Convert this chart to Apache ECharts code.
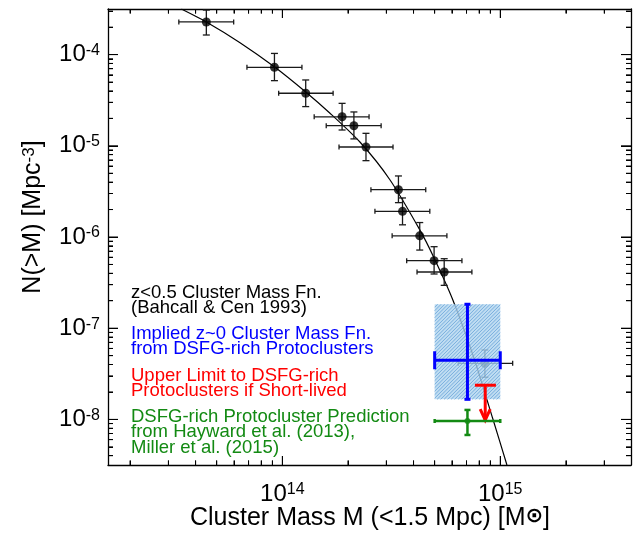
<!DOCTYPE html>
<html>
<head>
<meta charset="UTF-8">
<title>Cluster mass function</title>
<script src="https://cdn.jsdelivr.net/npm/echarts@6/dist/echarts.min.js"></script>
<style>html,body{margin:0;padding:0;background:#fff;}</style>
</head>
<body>
<div id="chart" style="width:634px;height:535px;"></div>
<script>
// Bahcall & Cen 1993 points (last one sits behind the shaded box)
var clusterMass   = [4.48e13, 9.20e13, 1.28e14, 1.88e14, 2.13e14, 2.42e14, 3.41e14, 3.56e14, 4.27e14, 4.97e14, 5.53e14, 8.50e14];
var clusterMassLo = [3.35e13, 6.88e13, 9.62e13, 1.40e14, 1.59e14, 1.82e14, 2.55e14, 2.66e14, 3.19e14, 3.72e14, 4.15e14, 6.41e14];
var clusterMassHi = [5.98e13, 1.23e14, 1.71e14, 2.50e14, 2.84e14, 3.22e14, 4.55e14, 4.75e14, 5.69e14, 6.67e14, 7.41e14, 1.14e15];
var clusterN      = [2.28e-4, 7.26e-5, 3.77e-5, 2.08e-5, 1.66e-5, 9.7e-6, 3.30e-6, 1.91e-6, 1.03e-6, 5.50e-7, 4.13e-7, 4.12e-8];
var clusterNLo    = [1.64e-4, 5.18e-5, 2.69e-5, 1.49e-5, 1.19e-5, 6.87e-6, 2.38e-6, 1.36e-6, 7.19e-7, 3.93e-7, 2.95e-7, 2.90e-8];
var clusterNHi    = [3.08e-4, 1.03e-4, 5.27e-5, 2.92e-5, 2.35e-5, 1.37e-5, 4.67e-6, 2.68e-6, 1.44e-6, 7.83e-7, 5.78e-7, 5.77e-8];

// mass function curve
var fitMass = [3.44e13, 4.48e13, 6.37e13, 9.22e13, 1.28e14, 1.65e14, 2.27e14, 3.11e14, 4.28e14, 4.97e14, 6.06e14, 7.57e14, 9.25e14, 1.073e15];
var fitN    = [3.162e-4, 2.28e-4, 1.36e-4, 7.31e-5, 3.89e-5, 2.29e-5, 1.10e-5, 4.27e-6, 1.19e-6, 5.89e-7, 2.04e-7, 4.71e-8, 1.01e-8, 3.16e-9];

// protocluster estimates: [mass, massLo, massHi, n, nLo, nHi]
var impliedPt   = [7.07e14, 5.0e14, 1.0e15, 4.45e-8, 1.66e-8, 1.83e-7];
var predictedPt = [7.07e14, 5.0e14, 1.0e15, 9.6e-9, 6.75e-9, 1.27e-8];
// upper limit: [mass, massLo, massHi, n, arrow tip]
var upperLimit  = [8.53e14, 7.65e14, 9.55e14, 2.37e-8, 9.8e-9];

var xRange = [1.585e13, 3.98e15];
var yRange = [3.162e-9, 3.162e-4];
var xTickValues = [1e14, 1e15];
var xTickExps   = ['14', '15'];
var xMinorTicks = [2e13, 3e13, 4e13, 5e13, 6e13, 7e13, 8e13, 9e13,
                   2e14, 3e14, 4e14, 5e14, 6e14, 7e14, 8e14, 9e14, 2e15, 3e15];
var yTickValues = [1e-8, 1e-7, 1e-6, 1e-5, 1e-4];
var yTickExps   = ['-8', '-7', '-6', '-5', '-4'];
var yMinorTicks = [4e-9, 5e-9, 6e-9, 7e-9, 8e-9, 9e-9,
                   2e-8, 3e-8, 4e-8, 5e-8, 6e-8, 7e-8, 8e-8, 9e-8,
                   2e-7, 3e-7, 4e-7, 5e-7, 6e-7, 7e-7, 8e-7, 9e-7,
                   2e-6, 3e-6, 4e-6, 5e-6, 6e-6, 7e-6, 8e-6, 9e-6,
                   2e-5, 3e-5, 4e-5, 5e-5, 6e-5, 7e-5, 8e-5, 9e-5,
                   2e-4, 3e-4];

var noteBlack = ['z<0.5 Cluster Mass Fn.', '(Bahcall & Cen 1993)'];
var noteBlue  = ['Implied z~0 Cluster Mass Fn.', 'from DSFG-rich Protoclusters'];
var noteRed   = ['Upper Limit to DSFG-rich', 'Protoclusters if Short-lived'];
var noteGreen = ['DSFG-rich Protocluster Prediction', 'from Hayward et al. (2013),', 'Miller et al. (2015)'];

var FONT = 'Liberation Sans, Arial, Helvetica, sans-serif';
var errs = [];
window.onerror = function (m) { errs.push(String(m)); };
function safe(tag, fn) { try { fn(); } catch (e) { errs.push(tag + ': ' + e.message); } }

var chart = echarts.init(document.getElementById('chart'));

function tickLabel(values, exps) {
    return function (v) {
        for (var i = 0; i < values.length; i++) {
            if (Math.abs(Math.log10(v) - Math.log10(values[i])) < 0.01) return '{b|10}{s|' + exps[i] + '}';
        }
        return ' ';
    };
}
var powRich = {
    b: {fontSize: 24, fontFamily: FONT, color: '#000', lineHeight: 24, verticalAlign: 'top'},
    s: {fontSize: 16, fontFamily: FONT, color: '#000', lineHeight: 10, verticalAlign: 'top'}
};

function seg(x1, y1, x2, y2, st) {
    return {type: 'line', shape: {x1: x1, y1: y1, x2: x2, y2: y2}, style: st};
}

// errorbar drawer; caps in px
function errorBars(color, width, capX, capY) {
    return function (params, api) {
        var c = api.coord([api.value(0), api.value(1)]);
        var l = api.coord([api.value(2), api.value(1)]);
        var r = api.coord([api.value(3), api.value(1)]);
        var lo = api.coord([api.value(0), api.value(4)]);
        var hi = api.coord([api.value(0), api.value(5)]);
        var st = {stroke: color, lineWidth: width};
        return {type: 'group', children: [
            seg(l[0], c[1], r[0], c[1], st),
            seg(l[0], c[1] - capX, l[0], c[1] + capX, st),
            seg(r[0], c[1] - capX, r[0], c[1] + capX, st),
            seg(c[0], lo[1], c[0], hi[1], st),
            seg(c[0] - capY, lo[1], c[0] + capY, lo[1], st),
            seg(c[0] - capY, hi[1], c[0] + capY, hi[1], st)
        ]};
    };
}

var clusterRows = clusterMass.map(function (m, i) {
    return [m, clusterN[i], clusterMassLo[i], clusterMassHi[i], clusterNLo[i], clusterNHi[i]];
});
var fitRows = fitMass.map(function (m, i) { return [m, fitN[i]]; });
function toRow(p) { return [p[0], p[3], p[1], p[2], p[4], p[5]]; }

// one axis per side for major ticks (+labels), one more for the minor ticks
function logAxis(range, pos, ticks, len, line, labels) {
    var ax = {
        type: 'log', logBase: 10, min: range[0], max: range[1], position: pos,
        axisLine: {show: line, onZero: false, lineStyle: {color: '#000', width: 1.3}},
        axisTick: {show: true, inside: true, length: len, customValues: ticks, lineStyle: {color: '#000', width: 1}},
        minorTick: {show: false}, splitLine: {show: false}, minorSplitLine: {show: false},
        axisLabel: {show: false}
    };
    if (labels) {
        ax.axisLabel = {show: true, customValues: ticks, margin: labels.margin,
            formatter: tickLabel(ticks, labels.exps), rich: powRich};
    }
    return ax;
}

function note(id, lines, color, top) {
    return {id: id, type: 'text', left: 131, top: top, silent: true,
        style: {text: lines.join('\n'), fill: color, font: '18.5px ' + FONT, lineHeight: 15.5}};
}

var option = {
    animation: false,
    backgroundColor: '#fff',
    grid: {left: 108, right: 3, top: 9, bottom: 70},
    xAxis: [
        logAxis(xRange, 'bottom', xTickValues, 9, true, {margin: 17, exps: xTickExps}),
        logAxis(xRange, 'bottom', xMinorTicks, 4.5, false),
        logAxis(xRange, 'top', xTickValues, 9, true),
        logAxis(xRange, 'top', xMinorTicks, 4.5, false)
    ],
    yAxis: [
        logAxis(yRange, 'left', yTickValues, 10, true, {margin: 8, exps: yTickExps}),
        logAxis(yRange, 'left', yMinorTicks, 5, false),
        logAxis(yRange, 'right', yTickValues, 10, true),
        logAxis(yRange, 'right', yMinorTicks, 5, false)
    ],
    graphic: [
        {id: 'yname', type: 'text', x: 34, y: 217, rotation: Math.PI / 2, silent: true,
            style: {text: '{t|N(>M) [Mpc}{s|-3}{t|]}', align: 'center', verticalAlign: 'middle',
                rich: {
                    t: {fontSize: 25, fontFamily: FONT, fill: '#000', lineHeight: 26, verticalAlign: 'top'},
                    s: {fontSize: 17, fontFamily: FONT, fill: '#000', lineHeight: 12, verticalAlign: 'top'}
                }}},
        {id: 'xname', type: 'text', x: 370, y: 506, silent: true,
            style: {text: '{t|Cluster Mass M (<1.5 Mpc) [M}{sun|\u2299}{t|]}', align: 'center', verticalAlign: 'top',
                rich: {
                    t: {fontSize: 25, fontFamily: FONT, fill: '#000', lineHeight: 26, verticalAlign: 'top'},
                    sun: {fontSize: 21, fontFamily: 'DejaVu Sans', fontWeight: 'bold', fill: '#000', lineHeight: 44, verticalAlign: 'top'}
                }}},
        note('n1', noteBlack, '#000', 283),
        note('n2', noteBlue, '#0000ff', 324),
        note('n3', noteRed, '#ff0000', 366),
        note('n4', noteGreen, '#138a13', 407)
    ],
    series: [
        {type: 'line', data: fitRows, symbol: 'none', smooth: 0.25, clip: true, z: 2,
            lineStyle: {color: '#000', width: 1.2}},
        {type: 'custom', data: clusterRows, z: 3,
            encode: {x: [0, 2, 3], y: [1, 4, 5]},
            renderItem: errorBars('#1a1a1a', 1.3, 2.5, 3.5)},
        {type: 'scatter', data: clusterRows, symbol: 'circle', symbolSize: 9, z: 4,
            itemStyle: {color: '#000'}},
        // hatched box: light fill plus diagonal strokes
        {type: 'custom', data: [toRow(impliedPt)], z: 5,
            encode: {x: [0, 2, 3], y: [1, 4, 5]},
            renderItem: function (params, api) {
                var a = api.coord([api.value(2), api.value(5)]);
                var b = api.coord([api.value(3), api.value(4)]);
                var x0 = a[0], y0 = a[1], w = b[0] - a[0], h = b[1] - a[1];
                var kids = [{type: 'rect', shape: {x: x0, y: y0, width: w, height: h},
                    style: {fill: 'rgba(176,212,239,0.8)'}}];
                var hs = {stroke: 'rgba(95,158,214,0.75)', lineWidth: 1};
                for (var c = x0 + y0 + 3; c < x0 + w + y0 + h; c += 3.5) {
                    var xa = Math.max(x0, c - y0 - h), xb = Math.min(x0 + w, c - y0);
                    kids.push(seg(xa, c - xa, xb, c - xb, hs));
                }
                return {type: 'group', children: kids};
            }},
        {type: 'custom', data: [toRow(impliedPt)], z: 6,
            encode: {x: [0, 2, 3], y: [1, 4, 5]},
            renderItem: errorBars('#0000ff', 3, 9, 3)},
        {type: 'custom', data: [upperLimit], z: 6,
            encode: {x: [0, 1, 2], y: [3, 4]},
            renderItem: function (params, api) {
                var cap = api.coord([api.value(0), api.value(3)]);
                var l = api.coord([api.value(1), api.value(3)]);
                var r = api.coord([api.value(2), api.value(3)]);
                var tip = api.coord([api.value(0), api.value(4)]);
                var st = {stroke: '#ff0000', lineWidth: 3};
                return {type: 'group', children: [
                    seg(l[0], cap[1], r[0], cap[1], st),
                    seg(cap[0], cap[1], tip[0], tip[1], st),
                    {type: 'polyline', shape: {points: [[tip[0] - 5, tip[1] - 11], [tip[0], tip[1]], [tip[0] + 5, tip[1] - 11]]},
                        style: {stroke: '#ff0000', lineWidth: 3, fill: null}}
                ]};
            }},
        {type: 'custom', data: [toRow(predictedPt)], z: 6,
            encode: {x: [0, 2, 3], y: [1, 4, 5]},
            renderItem: errorBars('#138a13', 2.5, 2, 3)},
        {type: 'scatter', data: [toRow(predictedPt)], symbol: 'circle', symbolSize: 6, z: 7,
            itemStyle: {color: '#138a13'}}
    ]
};
safe('main', function () { chart.setOption(option); });

// backup frame ticks, placed with the chart's own axis scales
safe('ticks', function () {
    var frameTicks = [];
    var gx = chart.convertToPixel({gridIndex: 0}, [xRange[0], yRange[0]]);
    var gx2 = chart.convertToPixel({gridIndex: 0}, [xRange[1], yRange[1]]);
    function addX(list, len, tag) {
        list.forEach(function (v, i) {
            var px = chart.convertToPixel({gridIndex: 0}, [v, yRange[0]])[0];
            frameTicks.push({id: tag + 'b' + i, type: 'rect', z: 100, silent: true,
                shape: {x: px - 0.5, y: gx[1] - len, width: 1, height: len}, style: {fill: '#000'}});
            frameTicks.push({id: tag + 't' + i, type: 'rect', z: 100, silent: true,
                shape: {x: px - 0.5, y: gx2[1], width: 1, height: len}, style: {fill: '#000'}});
        });
    }
    function addY(list, len, tag) {
        list.forEach(function (v, i) {
            var py = chart.convertToPixel({gridIndex: 0}, [xRange[0], v])[1];
            frameTicks.push({id: tag + 'l' + i, type: 'rect', z: 100, silent: true,
                shape: {x: gx[0], y: py - 0.5, width: len, height: 1}, style: {fill: '#000'}});
            frameTicks.push({id: tag + 'r' + i, type: 'rect', z: 100, silent: true,
                shape: {x: gx2[0] - len, y: py - 0.5, width: len, height: 1}, style: {fill: '#000'}});
        });
    }
    addX(xTickValues, 9, 'xM'); addX(xMinorTicks, 4.5, 'xm');
    addY(yTickValues, 10, 'yM'); addY(yMinorTicks, 5, 'ym');
    chart.setOption({graphic: frameTicks});
});

function showErrors() {
    if (!errs.length) return;
    safe('report', function () {
        chart.setOption({graphic: [{id: 'errs', type: 'text', left: 300, top: 30, z: 200,
            style: {text: errs.join('\n').slice(0, 400), fill: '#c00', font: '10px monospace', width: 320, overflow: 'break'}}]});
    });
}
showErrors();
setTimeout(showErrors, 30);
</script>
</body>
</html>
